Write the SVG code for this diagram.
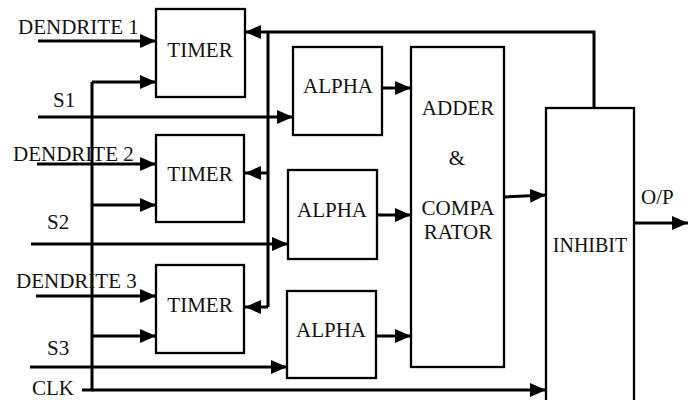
<svg xmlns="http://www.w3.org/2000/svg" width="696" height="400" viewBox="0 0 696 400" font-family="Liberation Serif, Times New Roman, serif" font-size="21">
<style>
.box{fill:#fff;stroke:#000;stroke-width:2.3}
.ln{fill:none;stroke:#000;stroke-width:3}
.arr{marker-end:url(#ah)}
.c{text-anchor:middle}
</style>
<defs>
<marker id="ah" markerUnits="userSpaceOnUse" markerWidth="16" markerHeight="14" refX="16" refY="7" orient="auto">
<path d="M0,0 L16,7 L0,14 z" fill="#000"/>
</marker>
</defs>
<rect width="696" height="400" fill="#fff"/>
<g id="connectors">
<path class="ln arr" d="M38,41 H156"/>
<path class="ln arr" d="M37,164 H156"/>
<path class="ln arr" d="M36,296 H156"/>
<path class="ln arr" d="M38,117 H293"/>
<path class="ln arr" d="M31,244 H288"/>
<path class="ln arr" d="M30,367 H287"/>
<path class="ln" d="M82,390 H92 V82"/>
<path class="ln arr" d="M92,82 H156"/>
<path class="ln arr" d="M92,205 H156"/>
<path class="ln arr" d="M92,336 H156"/>
<path class="ln arr" d="M92,390 H546"/>
<path class="ln arr" d="M594,108 V32 H245"/>
<path class="ln" d="M268,32 V307"/>
<path class="ln arr" d="M268,173 H245"/>
<path class="ln arr" d="M268,307 H245"/>
<path class="ln arr" d="M382,88 H411"/>
<path class="ln arr" d="M377,215 H411"/>
<path class="ln arr" d="M376,336 H411"/>
<path class="ln arr" d="M505,197 L546,195"/>
<path class="ln arr" d="M634,223 H688"/>
</g>
<g id="labels" fill="#111">
<text x="18" y="34">DENDRITE 1</text>
<text x="53" y="107">S1</text>
<text x="13" y="161">DENDRITE 2</text>
<text x="47" y="229">S2</text>
<text x="16" y="288">DENDRITE 3</text>
<text x="47" y="355">S3</text>
<text x="32" y="395">CLK</text>
<text x="641" y="204">O/P</text>
</g>
<g id="timer1"><rect class="box" x="156" y="9" width="89" height="88"/><text class="c" x="200" y="57" fill="#111">TIMER</text></g>
<g id="timer2"><rect class="box" x="156" y="135" width="88" height="87"/><text class="c" x="200" y="181" fill="#111">TIMER</text></g>
<g id="timer3"><rect class="box" x="156" y="265" width="88" height="88"/><text class="c" x="200" y="312" fill="#111">TIMER</text></g>
<g id="alpha1"><rect class="box" x="293" y="47" width="89" height="88"/><text class="c" x="338" y="93" fill="#111">ALPHA</text></g>
<g id="alpha2"><rect class="box" x="288" y="170" width="89" height="89"/><text class="c" x="332" y="217" fill="#111">ALPHA</text></g>
<g id="alpha3"><rect class="box" x="287" y="291" width="89" height="87"/><text class="c" x="331" y="337" fill="#111">ALPHA</text></g>
<g id="adder"><rect class="box" x="411" y="47" width="93" height="320"/>
<text class="c" x="458" y="115" fill="#111">ADDER</text>
<text class="c" x="457" y="165" fill="#111">&amp;</text>
<text class="c" x="458" y="215" fill="#111">COMPA</text>
<text class="c" x="458" y="239" fill="#111">RATOR</text></g>
<g id="inhibit"><rect class="box" x="546" y="108" width="88" height="300"/><text class="c" x="590" y="252" fill="#111" font-size="20">INHIBIT</text></g>
</svg>
